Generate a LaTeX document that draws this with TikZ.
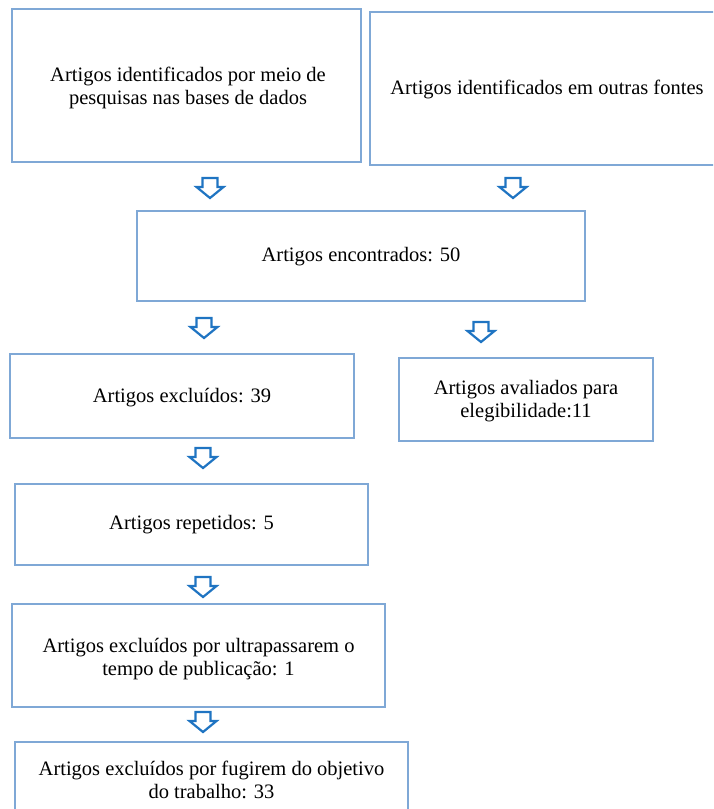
\documentclass[tikz,border=0pt]{standalone}
\usepackage{fontspec}
\setmainfont{Liberation Serif}
\definecolor{boxline}{HTML}{7FA8D6}
\definecolor{arrowblue}{HTML}{1F74C2}
\begin{document}
\begin{tikzpicture}[x=1pt,y=-1pt,
  txt/.style={align=center,font=\fontsize{20.5}{23}\selectfont,inner sep=0pt},
  frame/.style={draw=boxline,line width=1.1pt},
  blk/.style={draw=arrowblue,line width=2.2pt,line join=miter,fill=white}]
\useasboundingbox (0,0) rectangle (713,809);
\clip (0,0) rectangle (713,809);
\newcommand\blockarrow[2]{%
  \draw[blk] (#1-7.5,#2-10) -- (#1+7.5,#2-10) -- (#1+7.5,#2-1) -- (#1+13.5,#2-1) -- (#1,#2+10) -- (#1-13.5,#2-1) -- (#1-7.5,#2-1) -- cycle;}
% boxes
\draw[frame] (12,9) rectangle (361,162);
\node[txt] (a) at (188,88) {Artigos identificados por meio de\\pesquisas nas bases de dados};
\draw[frame] (370,12) rectangle (730,165);
\node[txt] (b) at (547,89) {Artigos identificados em outras fontes};
\draw[frame] (137,211) rectangle (585,301);
\node[txt] (c) at (361,257) {Artigos encontrados: 50};
\draw[frame] (10,354) rectangle (354,438);
\node[txt] (d) at (182,398) {Artigos excluídos: 39};
\draw[frame] (399,358) rectangle (653,441);
\node[txt] (e) at (526,401) {Artigos avaliados para\\elegibilidade:11};
\draw[frame] (15,484) rectangle (368,565);
\node[txt] (f) at (191.5,525) {Artigos repetidos: 5};
\draw[frame] (12,604) rectangle (385,707);
\node[txt] (g) at (198.5,659) {Artigos excluídos por ultrapassarem o\\tempo de publicação: 1};
\draw[frame] (15,742) rectangle (408,830);
\node[txt] (h) at (211.5,780) {Artigos excluídos por fugirem do objetivo\\do trabalho: 33};
% arrows
\blockarrow{210}{188}
\blockarrow{513}{188}
\blockarrow{204}{328}
\blockarrow{481}{332}
\blockarrow{203}{458}
\blockarrow{203}{587}
\blockarrow{203}{722}
\end{tikzpicture}
\end{document}
